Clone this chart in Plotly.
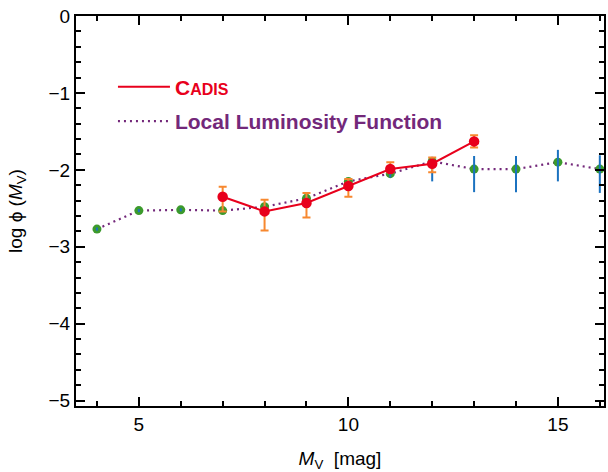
import plotly.graph_objects as go

# Local luminosity function (green points, blue error bars)
llf_mag = [4, 5, 6, 7, 8, 9, 10, 11, 12, 13, 14, 15, 16]
llf_logphi = [-2.77, -2.53, -2.52, -2.53, -2.48, -2.37, -2.15, -2.05, -1.89, -1.99, -1.99, -1.90, -1.99]
llf_err_plus = [0.02, 0.02, 0.02, 0.02, 0.03, 0.03, 0.04, 0.05, 0.06, 0.17, 0.17, 0.16, 0.18]
llf_err_minus = [0.02, 0.02, 0.02, 0.02, 0.03, 0.03, 0.04, 0.05, 0.26, 0.30, 0.30, 0.25, 0.31]

# CADIS (red points, orange error bars)
cadis_mag = [7, 8, 9, 10, 11, 12, 13]
cadis_logphi = [-2.35, -2.54, -2.43, -2.21, -1.99, -1.92, -1.63]
cadis_err_plus = [0.13, 0.15, 0.13, 0.09, 0.09, 0.08, 0.08]
cadis_err_minus = [0.19, 0.25, 0.19, 0.14, 0.04, 0.11, 0.08]

RED = "#e8001c"
ORANGE = "#f7882f"
PURPLE = "#73287a"
GREEN = "#3c9a2c"
BLUE = "#1b72c0"
FONT = "Liberation Sans, Arial, sans-serif"
DOTS = "2px,4px"

fig = go.Figure()

# dotted purple line for local LF
fig.add_trace(go.Scatter(
    x=llf_mag, y=llf_logphi, mode="lines",
    line=dict(color=PURPLE, width=2.2, dash=DOTS),
    showlegend=False, hoverinfo="skip"))
# green markers
fig.add_trace(go.Scatter(
    x=llf_mag, y=llf_logphi, mode="markers",
    marker=dict(color=GREEN, size=9),
    showlegend=False))
# blue error bars on top of green markers
fig.add_trace(go.Scatter(
    x=llf_mag, y=llf_logphi, mode="markers",
    marker=dict(color="rgba(0,0,0,0)", size=1),
    error_y=dict(type="data", symmetric=False, array=llf_err_plus, arrayminus=llf_err_minus,
                 color=BLUE, thickness=2, width=0),
    showlegend=False))

# CADIS
fig.add_trace(go.Scatter(
    x=cadis_mag, y=cadis_logphi, mode="lines+markers",
    line=dict(color=RED, width=2),
    marker=dict(color=RED, size=10.5),
    error_y=dict(type="data", symmetric=False, array=cadis_err_plus, arrayminus=cadis_err_minus,
                 color=ORANGE, thickness=2, width=4),
    showlegend=False))

# legend entries
fig.add_trace(go.Scatter(
    x=[None], y=[None], mode="lines", line=dict(color=RED, width=2), legendgroup="a",
    name=f"<span style='color:{RED}'>C<span style='font-size:16px'>ADIS</span></span>"))
fig.add_trace(go.Scatter(
    x=[None], y=[None], mode="lines", line=dict(color=PURPLE, width=2.2, dash=DOTS), legendgroup="b",
    name=f"<span style='color:{PURPLE}'>Local Luminosity Function</span>"))

axis_common = dict(
    showline=True, linecolor="black", linewidth=2, mirror="ticks",
    ticks="inside", ticklen=9, tickwidth=2, tickcolor="black",
    showgrid=False, zeroline=False, automargin=False,
    tickfont=dict(family=FONT, size=19, color="black"),
)

fig.update_xaxes(
    range=[3.5, 16.1], tickmode="linear", tick0=5, dtick=5,
    minor=dict(ticks="inside", dtick=1, tick0=0, ticklen=5, tickwidth=2, tickcolor="black"),
    title=dict(text="<i>M</i><sub>V</sub>  [mag]", font=dict(family=FONT, size=19, color="black"), standoff=22),
    **axis_common)
fig.update_yaxes(
    range=[-5.07, 0], tickmode="linear", tick0=0, dtick=1,
    minor=dict(ticks="inside", dtick=0.2, tick0=0, ticklen=5, tickwidth=2, tickcolor="black"),
    title=dict(text="log ϕ (<i>M</i><sub>V</sub>)", font=dict(family=FONT, size=19, color="black"), standoff=21),
    **axis_common)

fig.update_layout(
    width=608, height=472,
    margin=dict(l=76, r=4, t=16, b=66),
    paper_bgcolor="white", plot_bgcolor="white",
    legend=dict(x=0.07, y=0.87, xanchor="left", yanchor="top",
                bgcolor="rgba(0,0,0,0)", borderwidth=0,
                font=dict(family=FONT, size=21, color="black", weight="bold"),
                itemwidth=52, tracegroupgap=4),
)

fig.write_html("out.html", config={"displayModeBar": False},
               post_script="document.body.style.margin='0';")
